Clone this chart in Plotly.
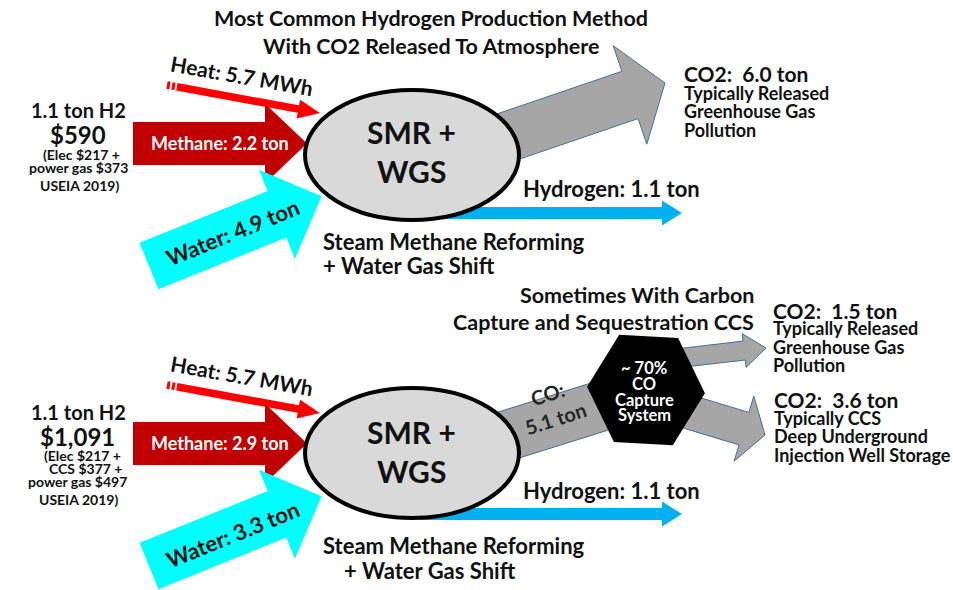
import math
import plotly.graph_objects as go

# ---------------- data ----------------
panel_titles = [["Most Common Hydrogen Production Method", "With CO2 Released To Atmosphere"],
                ["Sometimes With Carbon", "Capture and Sequestration CCS"]]
h2_output_ton = [1.1, 1.1]
h2_cost_usd = ["$590", "$1,091"]
cost_notes = [["(Elec $217 +", "power gas $373", "USEIA 2019)"],
              ["(Elec $217 +", "CCS $377 +", "power gas $497", "USEIA 2019)"]]
heat_mwh = [5.7, 5.7]
methane_ton = [2.2, 2.9]
water_ton = [4.9, 3.3]
hydrogen_ton = [1.1, 1.1]
co_to_capture_ton = 5.1
capture_share_pct = 70
co2_released_ton = [6.0, 1.5]
co2_stored_ton = 3.6
process_name = ["Steam Methane Reforming", "+ Water Gas Shift"]
released_note = ["Typically Released", "Greenhouse Gas", "Pollution"]
stored_note = ["Typically CCS", "Deep Underground", "Injection Well Storage"]

# ---------------- styling ----------------
FONT = "Lato"
BLACK = "#111111"
C_HEAT = "#FF0000"
C_METH = "#C00000"
C_WATER = "#00FFFF"
C_H2 = "#00B0F0"
C_GRAY = "#A6A6A6"
C_EDGE = "#41719C"
C_ELL = "#D9D9D9"

W, H = 953, 590
fig = go.Figure()
shapes = []
ann = []


def pts_path(pts):
    return "M " + " L ".join(f"{x:.1f},{y:.1f}" for x, y in pts) + " Z"


def arrow_pts(x0, y0, x1, y1, bw, hw, hl):
    dx, dy = x1 - x0, y1 - y0
    L = math.hypot(dx, dy)
    ux, uy = dx / L, dy / L
    nx, ny = -uy, ux
    bx, by = x1 - ux * hl, y1 - uy * hl
    return [(x0 + nx * bw, y0 + ny * bw), (bx + nx * bw, by + ny * bw),
            (bx + nx * hw, by + ny * hw), (x1, y1),
            (bx - nx * hw, by - ny * hw), (bx - nx * bw, by - ny * bw),
            (x0 - nx * bw, y0 - ny * bw)]


def band_pts(x0, y0, x1, y1, bw):
    dx, dy = x1 - x0, y1 - y0
    L = math.hypot(dx, dy)
    nx, ny = -dy / L, dx / L
    return [(x0 + nx * bw, y0 + ny * bw), (x1 + nx * bw, y1 + ny * bw),
            (x1 - nx * bw, y1 - ny * bw), (x0 - nx * bw, y0 - ny * bw)]


def add_poly(pts, fill, line_color=None, lw=0):
    shapes.append(dict(type="path", path=pts_path(pts), xref="x", yref="y",
                       fillcolor=fill, line=dict(color=line_color or fill, width=lw),
                       layer="above"))


def text(x, y, s, size, color=BLACK, xa="center", angle=0, bold=True):
    ann.append(dict(x=x, y=y, xref="x", yref="y", text=(f"<b>{s}</b>" if bold else s),
                    showarrow=False, xanchor=xa, yanchor="middle", textangle=angle,
                    font=dict(family=FONT, size=size, color=color), borderpad=0))


def heat_arrow(sx, sy, tx, ty):
    dx, dy = tx - sx, ty - sy
    L = math.hypot(dx, dy)
    ux, uy = dx / L, dy / L
    bw = 3.8
    for a, b in [(0, 3), (5, 8)]:
        add_poly(band_pts(sx + ux * a, sy + uy * a, sx + ux * b, sy + uy * b, bw), C_HEAT)
    add_poly(arrow_pts(sx + ux * 10, sy + uy * 10, tx, ty, bw, 9.5, 22), C_HEAT)


def ellipse(cx, cy):
    shapes.append(dict(type="circle", xref="x", yref="y", x0=cx - 107, x1=cx + 107,
                       y0=cy - 65, y1=cy + 65, fillcolor=C_ELL,
                       line=dict(color="black", width=4), layer="above"))


for p, off in enumerate([0, 300]):
    # inputs
    heat_arrow(167, 85 + off, 320, 113 + off)
    add_poly(arrow_pts(133, 143.5 + off, 307, 143.5 + off, 21.5, 40, 42), C_METH)
    ang = math.radians(-22)
    add_poly(arrow_pts(149, 266 + off, 149 + 186 * math.cos(ang), 266 + off + 186 * math.sin(ang),
                       25, 48, 48), C_WATER)
    # hydrogen out
    hy = 213 + off + (1 if p else 0)
    add_poly(arrow_pts(420, hy, 682, hy, 6, 12.5, 20), C_H2)

# top CO2 arrow (behind ellipse)
add_poly(arrow_pts(460, 153, 665, 83, 25, 52, 37), C_GRAY, C_EDGE, 1)
# bottom CO band + outgoing arrows
add_poly(band_pts(461, 450, 614, 402, 25), C_GRAY, C_EDGE, 1)
add_poly(arrow_pts(680, 358, 766, 348, 9.5, 17, 22), C_GRAY, C_EDGE, 1)
add_poly(arrow_pts(674, 407.5, 765, 435, 17, 34, 22), C_GRAY, C_EDGE, 1)

ellipse(412, 155)
ellipse(412, 453)

# hexagon capture system
hcx, hcy = 646, 390
hex_pts = []
for k in range(6):
    a = math.radians(60 * k + 3)
    hex_pts.append((hcx + 59 * math.cos(a), hcy + 62 * math.sin(a)))
add_poly(hex_pts, "black")

# ---------------- texts ----------------
# titles
text(431, 18, panel_titles[0][0], 21.5)
text(431, 46, panel_titles[0][1], 21.5)
text(755, 295, panel_titles[1][0], 21.5, xa="right")
text(755, 322, panel_titles[1][1], 21.5, xa="right")

# left cost blocks
text(78, 110, f"{h2_output_ton[0]} ton H2", 20)
text(78, 134, h2_cost_usd[0], 24)
for s, x, y in zip(cost_notes[0], [81, 78, 79], [154, 167, 185]):
    text(x, y, s, 14)
text(78, 412, f"{h2_output_ton[1]} ton H2", 20)
text(77, 436, h2_cost_usd[1], 24)
for s, x, y in zip(cost_notes[1], [82, 85, 77, 78], [455, 468, 481, 499]):
    text(x, y, s, 14)

for p, off in enumerate([0, 300]):
    text(242, 75 + off, f"Heat: {heat_mwh[p]} MWh", 21, angle=10)
    text(220, 143 + off, f"Methane: {methane_ton[p]} ton", 18, color="white")
    text(232, 232 + off + (2 if p else 0), f"Water: {water_ton[p]} ton", 22, angle=-22)
    text(411, 132 + off, "SMR +", 30)
    text(411, 171 + off, "WGS", 30)
    text(611, 188 + off + (2 if p else 0), f"Hydrogen: {hydrogen_ton[p]} ton", 22)
    text(322, 241 + off + (4 if p else 0), process_name[0], 22, xa="left")
    text(322 + (21 if p else 0), 265 + off + (5 if p else 0), process_name[1], 22, xa="left")

# right notes top
text(683, 73, f"CO2:&nbsp; {co2_released_ton[0]:.1f} ton", 21, xa="left")
for s, y in zip(released_note, [93, 111, 130]):
    text(683, y, s, 18, xa="left")
# right notes bottom
text(772, 310, f"CO2:&nbsp; {co2_released_ton[1]:.1f} ton", 21, xa="left")
for s, y in zip(released_note, [328, 347, 365]):
    text(772, y, s, 18, xa="left")
text(773, 399, f"CO2:&nbsp; {co2_stored_ton:.1f} ton", 21, xa="left")
for s, y in zip(stored_note, [418, 436, 455]):
    text(773, y, s, 18, xa="left")

# CO band label and hexagon label
text(551, 406, f"CO:<br>{co_to_capture_ton} ton", 20, color="#262626", angle=-18)
for s, y in zip([f"~ {capture_share_pct}%", "CO", "Capture", "System"], [368, 384, 400, 415]):
    text(644, y, s, 16.5, color="white")

fig.update_layout(
    width=W, height=H, autosize=False,
    margin=dict(l=0, r=0, t=0, b=0, pad=0),
    paper_bgcolor="white", plot_bgcolor="white",
    xaxis=dict(range=[0, W], visible=False, fixedrange=True),
    yaxis=dict(range=[H, 0], visible=False, fixedrange=True),
    shapes=shapes, annotations=ann, showlegend=False,
)
fig.write_html("out.html", config={"displayModeBar": False},
               post_script="document.body.style.margin='0';document.body.style.overflow='hidden';")
